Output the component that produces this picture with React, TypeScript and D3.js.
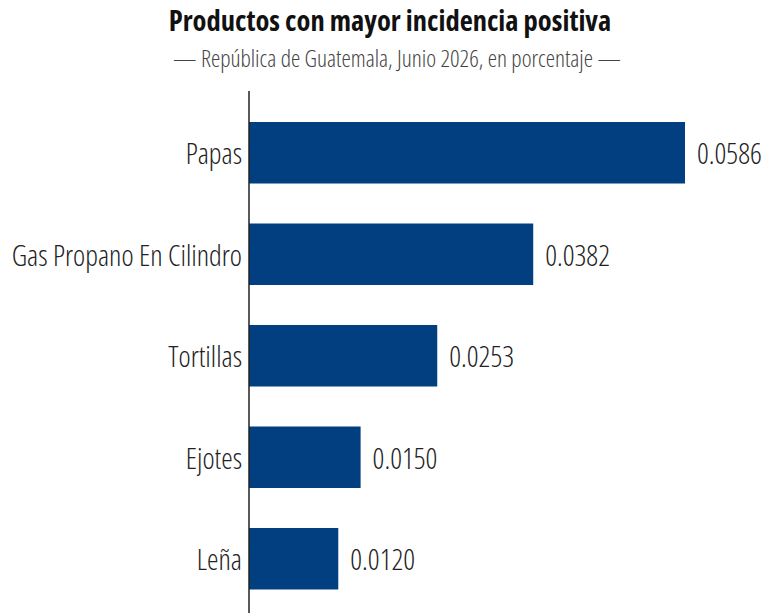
import { useMemo } from "react";
import * as d3 from "d3";

const WIDTH = 773;
const HEIGHT = 613;
const MARGIN = { top: 91, right: 90, bottom: 0, left: 249 };
const BAR_COLOR = "#023f80";
const FONT = "'Open Sans', sans-serif";

const categories = ["Papas", "Gas Propano En Cilindro", "Tortillas", "Ejotes", "Leña"];
const values = [0.0586, 0.0382, 0.0253, 0.015, 0.012];

const TITLE = "Productos con mayor incidencia positiva";
const SUBTITLE = "—  República de Guatemala, Junio 2026, en porcentaje  —";

export default function App() {
  const yScale = useMemo(
    () => d3.scaleBand().domain(categories).range([31, 498.5]).paddingInner(0.394).paddingOuter(0),
    []
  );

  // 0.0586 -> 436px
  const xScale = useMemo(() => d3.scaleLinear().domain([0, 0.0586]).range([0, 436]), []);

  const bars = categories.map((name, i) => {
    const y = yScale(name) ?? 0;
    const bw = yScale.bandwidth();
    const w = xScale(values[i]);
    return (
      <g key={name}>
        <rect x={0} y={y} width={w} height={bw} fill={BAR_COLOR} />
        <text
          x={-7}
          y={y + bw / 2}
          textAnchor="end"
          dominantBaseline="central"
          fontSize={29}
          fontWeight={300}
          fill="#222"
          style={{ fontStretch: "condensed" }}
        >
          {name}
        </text>
        <text
          x={w + 12}
          y={y + bw / 2}
          dominantBaseline="central"
          fontSize={29}
          fontWeight={300}
          fill="#222"
          style={{ fontStretch: "condensed" }}
        >
          {values[i].toFixed(4)}
        </text>
      </g>
    );
  });

  return (
    <svg width={WIDTH} height={HEIGHT} style={{ display: "block", margin: "-8px 0 0 -8px", fontFamily: FONT }}>
      <text x={390} y={31} textAnchor="middle" fontSize={28.5} fontWeight={700} fill="#111" style={{ fontStretch: "condensed" }}>
        {TITLE}
      </text>
      <text x={397} y={67} textAnchor="middle" fontSize={23.5} fontWeight={300} fill="#444" style={{ fontStretch: "condensed" }}>
        {SUBTITLE}
      </text>
      <g transform={`translate(${MARGIN.left},${MARGIN.top})`}>
        {bars}
        <line x1={0} x2={0} y1={0} y2={HEIGHT} stroke="#222" strokeWidth={1.5} />
      </g>
    </svg>
  );
}
